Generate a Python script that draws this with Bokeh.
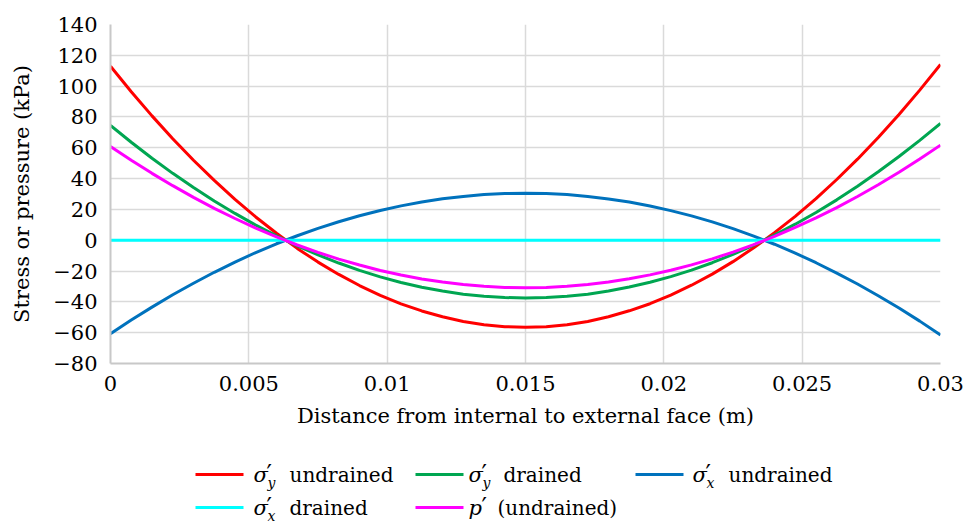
from bokeh.plotting import figure
from bokeh.layouts import column
from bokeh.models import Range1d, FixedTicker, CustomJSTickFormatter
from bokeh.core.properties import value
from bokeh.embed import file_html
from bokeh.resources import INLINE

# ---- data ----
x_m = [0.0, 0.00075, 0.0015, 0.00225, 0.003, 0.00375, 0.0045, 0.00525, 0.006, 0.00675,
       0.0075, 0.00825, 0.009, 0.00975, 0.0105, 0.01125, 0.012, 0.01275, 0.0135, 0.01425,
       0.015, 0.01575, 0.0165, 0.01725, 0.018, 0.01875, 0.0195, 0.02025, 0.021, 0.02175,
       0.0225, 0.02325, 0.024, 0.02475, 0.0255, 0.02625, 0.027, 0.02775, 0.0285, 0.02925,
       0.03]
sy_undrained = [112.9, 96.4, 80.7, 65.9, 51.9, 38.8, 26.5, 15.1, 4.5, -5.3,
                -14.2, -22.2, -29.4, -35.8, -41.3, -45.9, -49.7, -52.7, -54.8, -56.1,
                -56.5, -56.1, -54.8, -52.7, -49.7, -45.8, -41.2, -35.6, -29.2, -22.0,
                -13.9, -4.9, 4.9, 15.5, 27.0, 39.4, 52.6, 66.7, 81.6, 97.4,
                114.0]
sy_drained = [74.5, 63.6, 53.2, 43.4, 34.2, 25.5, 17.4, 9.8, 2.8, -3.6,
              -9.5, -14.8, -19.6, -23.8, -27.4, -30.5, -33.0, -35.0, -36.4, -37.2,
              -37.5, -37.2, -36.4, -35.0, -33.0, -30.4, -27.3, -23.6, -19.4, -14.6,
              -9.2, -3.2, 3.3, 10.4, 18.0, 26.2, 35.0, 44.4, 54.3, 64.8,
              75.8]
sx_undrained = [-60.7, -51.8, -43.4, -35.4, -27.9, -20.8, -14.2, -8.0, -2.3, 2.9,
                7.7, 12.0, 15.9, 19.3, 22.3, 24.8, 26.9, 28.4, 29.6, 30.3,
                30.5, 30.3, 29.6, 28.4, 26.8, 24.8, 22.2, 19.2, 15.8, 11.9,
                7.5, 2.7, -2.6, -8.4, -14.6, -21.3, -28.4, -36.0, -44.0, -52.5,
                -61.5]
sx_drained = [0.0] * 41
p_undrained = [60.8, 51.9, 43.4, 35.4, 27.8, 20.7, 14.1, 7.9, 2.2, -3.1,
               -7.9, -12.3, -16.1, -19.6, -22.6, -25.1, -27.1, -28.7, -29.9, -30.6,
               -30.8, -30.6, -29.9, -28.7, -27.1, -25.0, -22.5, -19.5, -16.0, -12.1,
               -7.7, -2.8, 2.5, 8.3, 14.5, 21.2, 28.4, 36.0, 44.1, 52.7,
               61.7]

x_ticks = [0, 0.005, 0.01, 0.015, 0.02, 0.025, 0.03]
y_ticks = [-80, -60, -40, -20, 0, 20, 40, 60, 80, 100, 120, 140]

series = [
    (sy_undrained, "#ff0000", "undrained"),
    (sy_drained, "#00a651", "drained"),
    (sx_undrained, "#0072bd", "undrained"),
    (sx_drained, "#00ffff", "drained"),
    (p_undrained, "#ff00ff", "(undrained)"),
]

FONT = "DejaVu Serif"
GRID = "#dadada"
W = 966

p = figure(width=W, height=440, output_backend="svg", toolbar_location=None,
           x_range=Range1d(0, 0.03), y_range=Range1d(-80, 140),
           min_border_left=110, min_border_right=W - 940, min_border_top=24,
           min_border_bottom=77)
p.outline_line_color = None

for ys, col, _ in series:
    p.line(x_m, ys, line_color=col, line_width=3)

fmt = CustomJSTickFormatter(code="""
    const v = parseFloat(tick.toFixed(4));
    return v.toString().replace('-', '\u2212');
""")

p.xaxis.ticker = FixedTicker(ticks=x_ticks)
p.yaxis.ticker = FixedTicker(ticks=y_ticks)
p.xaxis.formatter = fmt
p.yaxis.formatter = fmt
p.xaxis.axis_label = "Distance from internal to external face (m)"
p.yaxis.axis_label = "Stress or pressure (kPa)"
for ax in (p.xaxis, p.yaxis):
    ax.axis_label_text_font = FONT
    ax.axis_label_text_font_style = "normal"
    ax.axis_label_text_font_size = "21px"
    ax.major_label_text_font = FONT
    ax.major_label_text_font_size = "21px"
    ax.axis_line_color = "#c8c8c8"
    ax.axis_line_width = 2
    ax.major_tick_line_color = None
    ax.minor_tick_line_color = None
    ax.axis_label_text_color = "#000000"
    ax.major_label_text_color = "#000000"
p.xaxis.major_label_standoff = 6
p.yaxis.major_label_standoff = 7
p.xaxis.axis_label_standoff = 10
p.yaxis.axis_label_standoff = 16
p.xgrid.grid_line_color = GRID
p.ygrid.grid_line_color = GRID
p.xgrid.grid_line_width = 1.5
p.ygrid.grid_line_width = 1.5

# ---- legend drawn in its own small figure; its frame is aligned with the main
# frame (page x 110..940), so the x range maps 1:1 to page pixels ----
LH = 82
lg = figure(width=W, height=LH, output_backend="svg", toolbar_location=None,
            x_range=Range1d(110, 940), y_range=Range1d(0, LH),
            min_border=0)
lg.axis.visible = False
lg.grid.visible = False
lg.outline_line_color = None

r1, r2 = LH - 34, LH - 67
# positions: (line start x, text start x, row y, subscript, word offset)
leg_pos = [(195, 253, r1, "y", 36), (415, 468, r1, "y", 35), (635, 692, r1, "x", 36),
           (195, 253, r2, "x", 36), (415, 468, r2, None, 29)]
for (ys, col, word), (lx, tx, ry, sub, off) in zip(series, leg_pos):
    lg.line([lx, lx + 48], [ry, ry], line_color=col, line_width=3)
    sym = "σ" if sub else "p"
    lg.text(x=[tx], y=[ry], text=[sym], text_font=value(FONT), text_font_style="italic",
            text_font_size="21px", text_baseline="middle", text_align="left")
    lg.text(x=[tx + 13], y=[ry + 1], text=["′"], text_font=value(FONT),
            text_font_size="24px", text_baseline="middle", text_align="left")
    if sub:
        lg.text(x=[tx + 14], y=[ry - 8], text=[sub], text_font=value(FONT),
                text_font_style="italic", text_font_size="14px",
                text_baseline="middle", text_align="left")
    lg.text(x=[tx + off], y=[ry], text=[word], text_font=value(FONT),
            text_font_size="20px", text_baseline="middle", text_align="left")

layout = column(p, lg, spacing=0)
open("out.html", "w").write(file_html(layout, INLINE))
